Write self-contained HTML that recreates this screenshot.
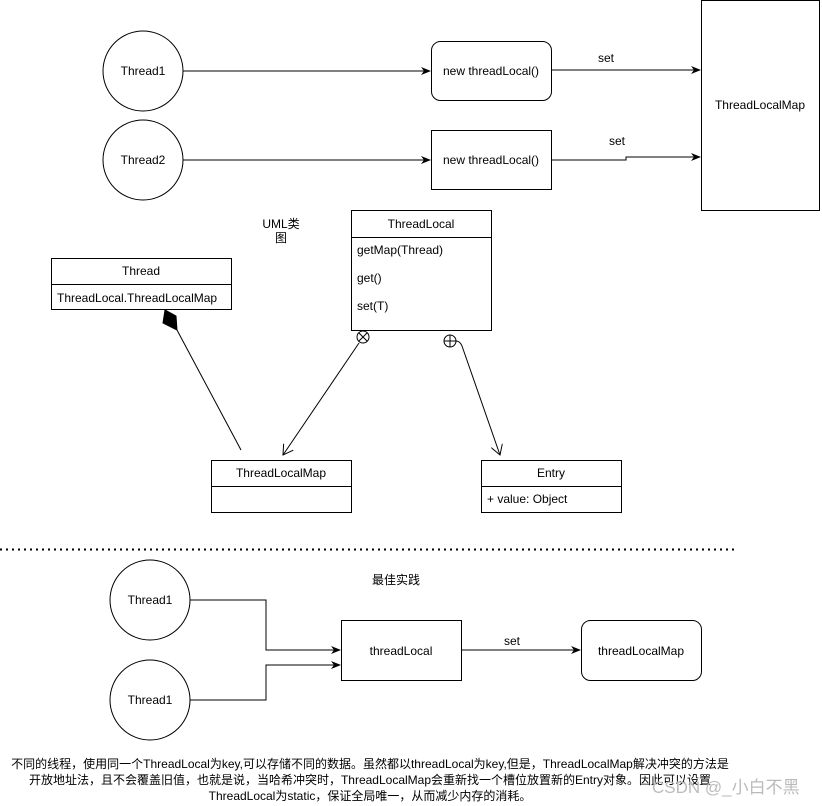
<!DOCTYPE html>
<html><head><meta charset="utf-8"><style>
html,body{margin:0;padding:0;background:#fff;width:822px;height:806px;overflow:hidden}
svg{display:block}
text{font-family:"Liberation Sans","Noto Sans CJK SC",sans-serif;font-size:12px;fill:#000}
</style></head><body>
<svg width="822" height="806" viewBox="0 0 822 806" xmlns="http://www.w3.org/2000/svg">
<defs>
<marker id="a" markerWidth="10" markerHeight="8" refX="9" refY="4" orient="auto" markerUnits="userSpaceOnUse"><path d="M0,0 L10,4 L0,8 L3,4 Z" fill="#000"/></marker>
<marker id="o" markerWidth="12" markerHeight="12" refX="10" refY="6" orient="auto" markerUnits="userSpaceOnUse"><path d="M0,0 L10,6 L0,12" fill="none" stroke="#000"/></marker>
</defs>
<g fill="none" stroke="#000" stroke-width="1">
<circle cx="143" cy="71" r="40" fill="#fff"/>
<circle cx="143" cy="160" r="40" fill="#fff"/>
<path d="M183,71 H430" marker-end="url(#a)"/>
<path d="M183,160 H430" marker-end="url(#a)"/>
<rect x="431.5" y="41.5" width="120" height="59" rx="9" fill="#fff"/>
<rect x="431.5" y="130.5" width="120" height="59" fill="#fff"/>
<rect x="701.5" y="0.5" width="118" height="210" fill="#fff"/>
<path d="M552,70 H700" marker-end="url(#a)"/>
<path d="M552,160 H626 V157 H700" marker-end="url(#a)"/>

<rect x="351.5" y="210.5" width="140" height="120" fill="#fff"/>
<path d="M351,237.5 H491"/>
<rect x="51.5" y="258.5" width="180" height="51" fill="#fff"/>
<path d="M51,284.5 H231"/>
<rect x="211.5" y="460.5" width="140" height="52" fill="#fff"/>
<path d="M211,486.5 H351"/>
<rect x="481.5" y="460.5" width="140" height="52" fill="#fff"/>
<path d="M481,486.5 H621"/>
<path d="M165,310 L176,316 L177,330 L163,323 Z" fill="#000"/>
<path d="M177,330 L241,450"/>
<circle cx="363" cy="337" r="6"/>
<path d="M359,333 L367,341 M367,333 L359,341"/>
<path d="M359,343 L283,455" marker-end="url(#o)"/>
<circle cx="450" cy="341" r="6"/>
<path d="M444,341 H456 M450,335 V347"/>
<path d="M456,341 Q460,341 462,346 L500,455" marker-end="url(#o)"/>

<path d="M0,549.5 H735" stroke-dasharray="2,4" stroke-width="2"/>

<circle cx="150" cy="600" r="40" fill="#fff"/>
<circle cx="150" cy="700" r="40" fill="#fff"/>
<path d="M190,600 H266 V650 H340" marker-end="url(#a)"/>
<path d="M190,700 H266 V665 H340" marker-end="url(#a)"/>
<rect x="341.5" y="620.5" width="120" height="60" fill="#fff"/>
<path d="M461,650 H580" marker-end="url(#a)"/>
<rect x="581.5" y="620.5" width="120" height="60" rx="9" fill="#fff"/>
</g>
<g text-anchor="middle">
<text x="143" y="75">Thread1</text>
<text x="143" y="164">Thread2</text>
<text x="491" y="75">new threadLocal()</text>
<text x="491" y="164">new threadLocal()</text>
<text x="606" y="62">set</text>
<text x="617" y="145">set</text>
<text x="760" y="109">ThreadLocalMap</text>
<text x="281" y="228">UML类</text>
<text x="281" y="242">图</text>
<text x="421" y="228">ThreadLocal</text>
<text x="141" y="275">Thread</text>
<text x="281" y="477">ThreadLocalMap</text>
<text x="551" y="477">Entry</text>
<text x="396" y="584">最佳实践</text>
<text x="150" y="604">Thread1</text>
<text x="150" y="704">Thread1</text>
<text x="401" y="655">threadLocal</text>
<text x="512" y="645">set</text>
<text x="641" y="655">threadLocalMap</text>
<text x="370" y="768">不同的线程，使用同一个ThreadLocal为key,可以存储不同的数据。虽然都以threadLocal为key,但是，ThreadLocalMap解决冲突的方法是</text>
<text x="370" y="784">开放地址法，且不会覆盖旧值，也就是说，当哈希冲突时，ThreadLocalMap会重新找一个槽位放置新的Entry对象。因此可以设置</text>
<text x="370" y="800">ThreadLocal为static，保证全局唯一，从而减少内存的消耗。</text>
</g>
<text x="57" y="302">ThreadLocal.ThreadLocalMap</text>
<text x="357" y="254">getMap(Thread)</text>
<text x="357" y="282">get()</text>
<text x="357" y="310">set(T)</text>
<text x="487" y="503">+ value: Object</text>
<text x="652" y="793" style="font-size:17px;fill:#bbb">CSDN @_小白不黑</text>
</svg>
</body></html>
